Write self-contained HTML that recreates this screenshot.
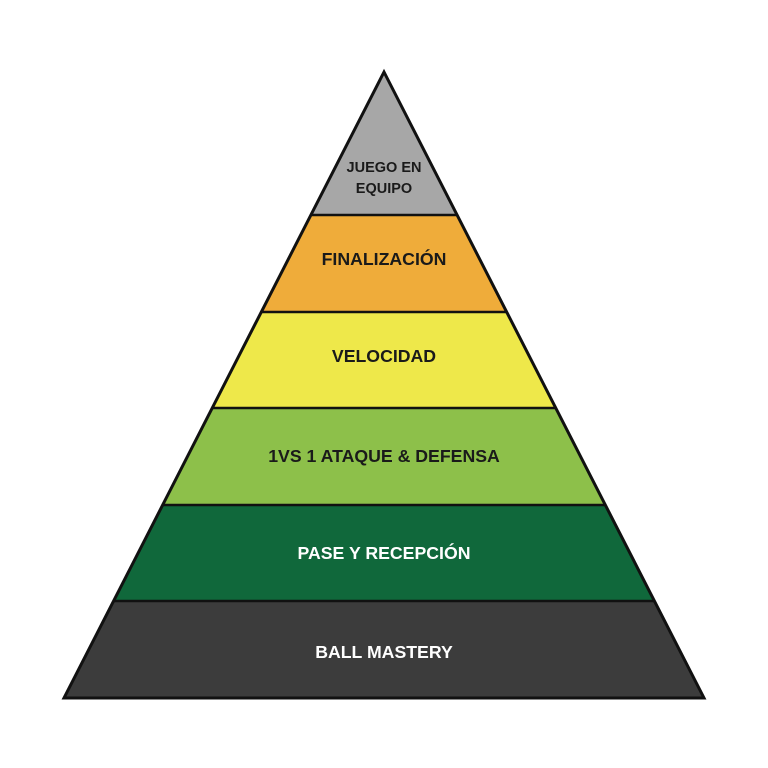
<!DOCTYPE html>
<html><head><meta charset="utf-8"><style>html,body{margin:0;padding:0;background:#fff}svg{display:block}</style></head>
<body>
<svg width="768" height="768" viewBox="0 0 768 768" xmlns="http://www.w3.org/2000/svg">
<defs><clipPath id="tri"><polygon points="384,72 64,698 704,698"/></clipPath></defs>
<g clip-path="url(#tri)">
<rect x="0" y="60" width="768" height="156" fill="#a7a7a7"/>
<rect x="0" y="215" width="768" height="98" fill="#efac3a"/>
<rect x="0" y="312" width="768" height="97" fill="#eee84a"/>
<rect x="0" y="408" width="768" height="98" fill="#8dc04a"/>
<rect x="0" y="505" width="768" height="97" fill="#10683b"/>
<rect x="0" y="601" width="768" height="98" fill="#3c3c3c"/>
<g stroke="#111" stroke-width="2.5">
<line x1="0" y1="215" x2="768" y2="215"/>
<line x1="0" y1="312" x2="768" y2="312"/>
<line x1="0" y1="408" x2="768" y2="408"/>
<line x1="0" y1="505" x2="768" y2="505"/>
<line x1="0" y1="601" x2="768" y2="601"/>
</g>
</g>
<polygon points="384,72 64,698 704,698" fill="none" stroke="#111" stroke-width="3" stroke-linejoin="miter"/>
<g font-family="Liberation Sans, sans-serif" font-weight="bold" text-anchor="middle">
<text x="384" y="172" font-size="14.5" fill="#1a1a1a">JUEGO EN</text>
<text x="384" y="193" font-size="14.5" fill="#1a1a1a">EQUIPO</text>
<text x="384" y="265" font-size="17.7" fill="#1a1a1a">FINALIZACIÓN</text>
<text x="384" y="362" font-size="17.7" fill="#1a1a1a">VELOCIDAD</text>
<text x="384" y="462" font-size="17.7" fill="#1a1a1a">1VS 1 ATAQUE &amp; DEFENSA</text>
<text x="384" y="559" font-size="17.7" fill="#ffffff">PASE Y RECEPCIÓN</text>
<text x="384" y="658" font-size="17.7" fill="#ffffff">BALL MASTERY</text>
</g>
</svg>
</body></html>
